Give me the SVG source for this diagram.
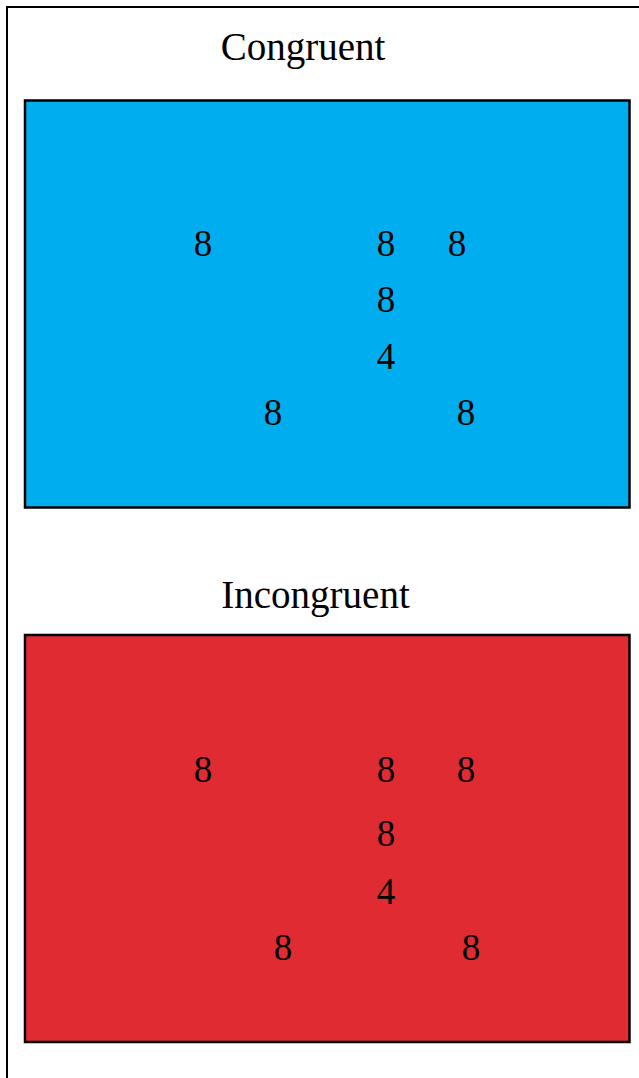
<svg xmlns="http://www.w3.org/2000/svg" width="639" height="1078" viewBox="0 0 639 1078">
<style>
.t{font-family:"Liberation Serif","Times New Roman",serif;font-size:37px;fill:#000;text-anchor:middle}
.h{font-size:39px}
.box{stroke:#000;stroke-width:2.5}
</style>
<rect width="639" height="1078" fill="#fff"/>
<rect x="7" y="7" width="700" height="1100" fill="none" stroke="#000" stroke-width="2"/>
<g id="congruent">
<text class="t h" x="303" y="60">Congruent</text>
<rect class="box" x="25" y="100.5" width="604.5" height="407" fill="#00aeef"/>
<text class="t" x="203" y="256">8</text>
<text class="t" x="386" y="256">8</text>
<text class="t" x="457" y="256">8</text>
<text class="t" x="386" y="312">8</text>
<text class="t" x="386" y="369">4</text>
<text class="t" x="273" y="425">8</text>
<text class="t" x="466" y="425">8</text>
</g>
<g id="incongruent">
<text class="t h" x="315.5" y="608">Incongruent</text>
<rect class="box" x="25" y="635" width="604.5" height="407" fill="#e02b32"/>
<text class="t" x="203" y="782">8</text>
<text class="t" x="386" y="782">8</text>
<text class="t" x="466" y="782">8</text>
<text class="t" x="386" y="846">8</text>
<text class="t" x="386" y="904">4</text>
<text class="t" x="283" y="960">8</text>
<text class="t" x="471" y="960">8</text>
</g>
</svg>
